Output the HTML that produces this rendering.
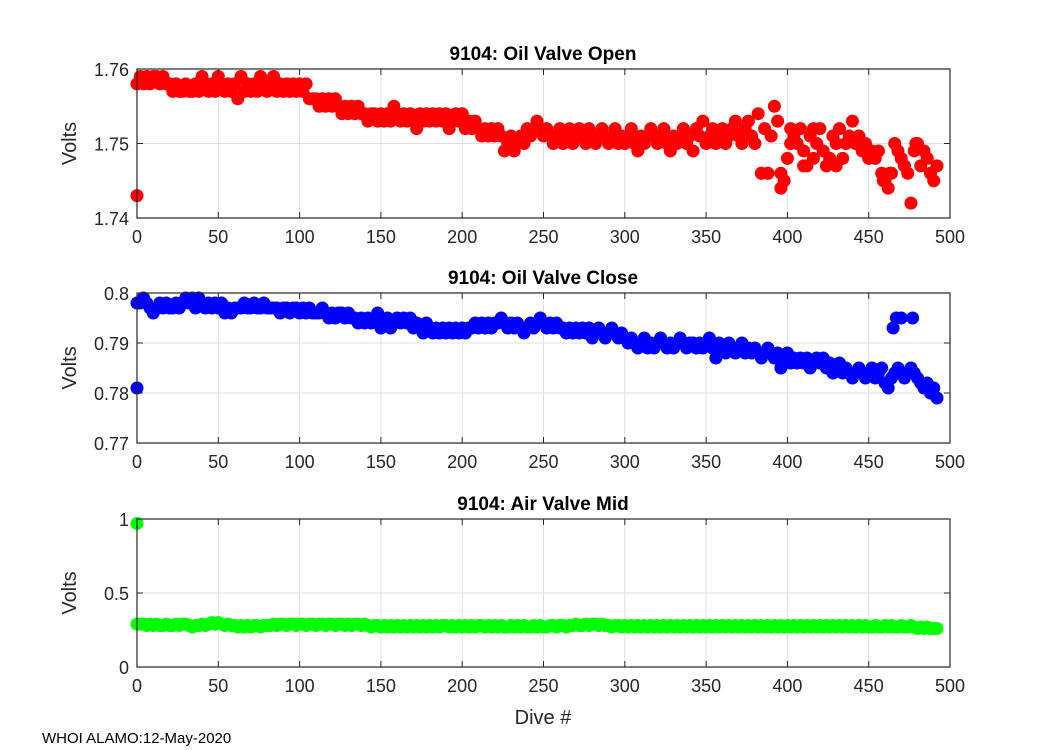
<!DOCTYPE html>
<html><head><meta charset="utf-8"><style>
html,body{margin:0;padding:0;background:#fff;}
svg{display:block;font-family:"Liberation Sans",Arial,sans-serif;}
</style></head><body>
<svg id="chart" width="1050" height="750" viewBox="0 0 1050 750">
<rect x="0" y="0" width="1050" height="750" fill="#fff"/>
<text x="42" y="743" font-size="15" fill="#000">WHOI ALAMO:12-May-2020</text>
<text x="543" y="724" font-size="20" fill="#262626" text-anchor="middle">Dive #</text>
</svg>
<script>
// Oil valve open (millivolts), dives 0,2,4,...,492
const openMv = [1758,1759,1758,1759,1758,1759,1759,1758,1759,1758,1758,
1757,1758,1757,1757,1758,1757,1757,1758,1757,
1759,1758,1757,1758,1757,1759,1758,1757,1758,1757,1758,
1756,1759,1757,1758,1757,1758,1757,1759,1758,1757,
1758,1759,1757,1758,1757,1758,1757,1758,1757,1758,1757,1758,
1756,1756,1756,1755,1756,1755,1756,1755,1756,1755,
1754,1755,1754,1755,1754,1755,1754,1754,1753,1754,
1754,1753,1754,1753,1754,1753,1755,1754,1753,1754,1753,1754,1753,1752,1754,
1753,1754,1753,1754,1753,1754,1753,1754,1752,1753,1754,1753,
1754,1752,1753,1752,1753,1752,1751,1752,1751,1752,1751,1752,1751,
1749,1750,1751,1749,1750,1751,1750,1752,
1751,1752,1753,1752,1751,1752,1751,1750,1751,1752,
1750,1751,1752,1750,1751,1752,1751,1750,1752,1751,1750,1751,1752,1751,1750,1751,1752,1750,1751,1750,
1751,1752,1750,1749,1751,1750,1751,1752,1751,1750,1751,1752,1750,1749,1751,
1750,1751,1752,1750,1751,1749,1752,1751,1753,1750,
1751,1752,1750,1751,1752,1750,1751,1752,1753,1751,1750,1752,1753,1751,1750,
1754,1746,1752,1746,1751,1755,1753,1744,1745,
1748,1752,1751,1750,1752,1749,1747,1751,1752,1750,1752,
1749,1747,1748,1751,1750,1752,1748,1750,1751,1753,1750,
1751,1749,1750,1748,1749,1748,1749,1746,1745,1744,1746,
1750,1749,1748,1747,1746,1742,1749,1750,1747,1749,1748,1746,1745,1747];
const openExtraDives = [0,384,388,396,402,410,416,430,459,463,479];
const openExtraMv = [1743,1746,1746,1746,1750,1747,1748,1747,1745,1746,1750];
// Oil valve close (millivolts)
const closeMv = [798,798,799,798,797,796,797,798,797,798,797,
797,798,797,798,799,798,799,797,799,
798,797,798,797,798,797,798,796,797,796,797,
797,797,798,797,797,798,797,797,798,797,797,797,797,796,797,797,796,797,797,796,
797,796,797,796,796,796,797,796,795,796,795,796,796,795,796,795,795,794,795,794,
795,794,795,796,793,794,795,793,794,795,794,795,794,795,793,794,793,792,794,793,
792,793,792,793,792,793,792,793,792,793,792,793,793,794,793,794,793,794,793,794,
794,795,794,793,794,793,794,793,792,793,794,793,794,795,794,793,794,793,794,793,
793,792,793,792,793,792,793,792,793,791,792,793,792,791,792,793,792,791,792,791,
790,791,790,789,790,791,789,790,789,790,791,790,789,790,789,790,791,790,789,790,
790,789,790,789,790,791,789,787,790,789,788,790,789,788,789,790,788,789,788,789,
788,787,788,789,788,787,788,785,787,788,786,787,786,787,786,787,785,786,787,786,
787,785,786,784,785,786,784,785,784,783,784,785,784,783,784,785,783,784,785,782,
781,783,784,785,784,783,784,785,784,783,782,781,782,780,781,779];
const closeExtraDives = [0,465,467,470,477];
const closeExtraMv = [781,793,795,795,795];
// Air valve mid (volts)
const airV = [0.29,0.29,0.29,0.28,0.29,0.28,0.29,0.28,0.28,0.29,0.28,
0.28,0.29,0.28,0.29,0.29,0.28,0.27,0.28,0.28,0.29,
0.28,0.29,0.30,0.29,0.30,0.29,0.28,0.29,0.28,0.28,
0.27,0.28,0.27,0.28,0.27,0.28,0.28,0.27,0.28,0.28,
0.28,0.29,0.28,0.29,0.29,0.28,0.29,0.29,0.28,0.29,
0.29,0.28,0.29,0.29,0.28,0.29,0.29,0.28,0.29,0.29,
0.28,0.29,0.29,0.28,0.29,0.28,0.29,0.29,0.28,0.29,
0.28,0.27,0.28,0.28,0.27,0.28,0.27,0.28,0.27,0.28,
0.27,0.28,0.27,0.28,0.27,0.28,0.27,0.28,0.27,0.28,
0.27,0.28,0.27,0.28,0.28,0.27,0.28,0.27,0.28,0.27,
0.28,0.27,0.28,0.27,0.28,0.28,0.27,0.28,0.27,0.28,
0.27,0.28,0.27,0.27,0.28,0.27,0.28,0.27,0.28,0.27,
0.27,0.28,0.27,0.28,0.27,0.27,0.28,0.28,0.27,0.28,
0.28,0.27,0.28,0.28,0.29,0.28,0.28,0.29,0.28,0.29,
0.29,0.28,0.29,0.28,0.28,0.27,0.28,0.28,0.27,0.28,
0.27,0.28,0.27,0.28,0.27,0.28,0.27,0.28,0.27,0.28,
0.27,0.28,0.27,0.28,0.27,0.28,0.27,0.28,0.27,0.28,
0.27,0.28,0.27,0.28,0.27,0.28,0.27,0.28,0.27,0.28,
0.27,0.28,0.27,0.28,0.27,0.28,0.27,0.28,0.27,0.28,
0.27,0.28,0.27,0.28,0.27,0.28,0.27,0.28,0.27,0.28,
0.27,0.28,0.27,0.28,0.27,0.28,0.27,0.28,0.27,0.28,
0.27,0.28,0.27,0.28,0.27,0.28,0.27,0.28,0.27,0.28,
0.27,0.28,0.27,0.28,0.27,0.27,0.28,0.27,0.27,0.28,
0.27,0.28,0.27,0.27,0.28,0.27,0.27,0.28,0.27,0.26,
0.27,0.26,0.27,0.26,0.26,0.26];
const airExtraDives = [0];
const airExtraV = [0.97];
const xTicks = [0,50,100,150,200,250,300,350,400,450,500];
const openTicks = [1.74,1.75,1.76];
const closeTicks = [0.77,0.78,0.79,0.8];
const airTicks = [0,0.5,1];
const titles = ["9104: Oil Valve Open","9104: Oil Valve Close","9104: Air Valve Mid"];

const NS = "http://www.w3.org/2000/svg";
const svg = document.getElementById('chart');
function mk(tag, attrs, parent){
  const e = document.createElementNS(NS, tag);
  for (const k in attrs) e.setAttribute(k, attrs[k]);
  (parent||svg).appendChild(e);
  return e;
}
const X0 = 137, X1 = 950;
function xScale(d){ return X0 + (d - 0) / 500 * (X1 - X0); }

function panel(idx, top, bot, yMin, yMax, ticks, vals, exDives, exVals, color, tickFmt){
  const g = mk('g', {});
  
  
  const yScale = v => bot - (v - yMin) / (yMax - yMin) * (bot - top);
  mk('rect', {x:X0, y:top, width:X1-X0, height:bot-top, fill:'#fff'}, g);
  // grid
  xTicks.forEach(t => {
    const l = mk('line', {x1:xScale(t), x2:xScale(t), y1:top, y2:bot, stroke:'#dfdfdf', 'stroke-width':1}, g);
    
    
  });
  ticks.forEach(t => {
    const l = mk('line', {x1:X0, x2:X1, y1:yScale(t), y2:yScale(t), stroke:'#dfdfdf', 'stroke-width':1}, g);
    
    
  });
  // points
  const pts = mk('g', {fill:color}, g);
  
  
  vals.forEach((v, i) => {
    const c = mk('circle', {cx:xScale(i*2), cy:yScale(v), r:6.5}, pts);
    
    
  });
  exDives.forEach((d, i) => {
    const c = mk('circle', {cx:xScale(d), cy:yScale(exVals[i]), r:6.5}, pts);
    
    
  });
  // axes box
  const box = mk('rect', {x:X0, y:top, width:X1-X0, height:bot-top, fill:'none', stroke:'#262626', 'stroke-width':1.2}, g);
  
  
  xTicks.forEach(t => {
    const x = xScale(t);
    mk('line', {x1:x, x2:x, y1:bot, y2:bot-6, stroke:'#262626'}, g);
    mk('line', {x1:x, x2:x, y1:top, y2:top+6, stroke:'#262626'}, g);
    const tx = mk('text', {x:x, y:bot+25, 'font-size':18, fill:'#262626', 'text-anchor':'middle'}, g);
    tx.textContent = t;
    
    
  });
  ticks.forEach(t => {
    const y = yScale(t);
    mk('line', {x1:X0, x2:X0+6, y1:y, y2:y, stroke:'#262626'}, g);
    mk('line', {x1:X1, x2:X1-6, y1:y, y2:y, stroke:'#262626'}, g);
    const tx = mk('text', {x:X0-8, y:y+7, 'font-size':18, fill:'#262626', 'text-anchor':'end'}, g);
    tx.textContent = tickFmt(t);
    
    
  });
  const yl = mk('text', {x:0, y:0, 'font-size':20, fill:'#262626', 'text-anchor':'middle', transform:`translate(76,${(top+bot)/2}) rotate(-90)`}, g);
  yl.textContent = 'Volts';
  
  
  const ti = mk('text', {x:543, y:top-9, 'font-size':19, 'font-weight':'bold', fill:'#000', 'text-anchor':'middle'}, g);
  ti.textContent = titles[idx];
  
  
}
panel(0, 69, 218, 1.74, 1.76, openTicks, openMv.map(v=>v/1000), openExtraDives, openExtraMv.map(v=>v/1000), '#ff0000', t=>t.toFixed(2));
panel(1, 293, 443, 0.77, 0.80, closeTicks, closeMv.map(v=>v/1000), closeExtraDives, closeExtraMv.map(v=>v/1000), '#0000ff', t=>String(t));
panel(2, 519, 667, 0, 1, airTicks, airV, airExtraDives, airExtraV, '#00ff00', t=>String(t));
</script>
</body></html>
